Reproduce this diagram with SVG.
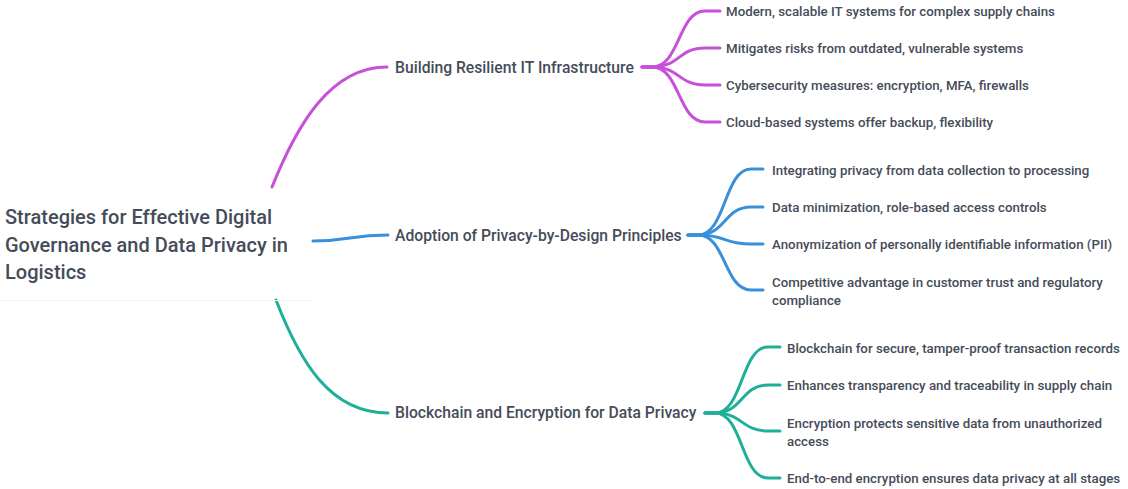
<svg xmlns="http://www.w3.org/2000/svg" width="1128" height="489" viewBox="0 0 1128 489">
<style>
text{font-family:Roboto,"Liberation Sans",sans-serif;fill:#454c59;font-weight:500}
.root{font-size:20px}
.br{font-size:15.7px}
.lf{font-size:13.3px}
.c{fill:none;stroke-width:3;stroke-linecap:round}
.p{stroke:#c84fd9}.b{stroke:#3a8fdb}.t{stroke:#1faf99}
</style>
<rect width="1128" height="489" fill="#fff"/>
<g id="connectors">
<path class="c p" d="M272,187 C297,125 330,67 387,67"/>
<path class="c b" d="M313,241 C350,241 350,235 388,235"/>
<path class="c t" d="M276,300 C300,362 330,413 388,413"/>
<path class="c p" d="M642,67 L652,67 C680,67 678,11 705,11 L720,11"/>
<path class="c p" d="M642,67 L652,67 C680,67 678,48 705,48 L720,48"/>
<path class="c p" d="M642,67 L652,67 C680,67 678,85 705,85 L720,85"/>
<path class="c p" d="M642,67 L652,67 C680,67 678,122 705,122 L720,122"/>
<path class="c b" d="M688,235 L698,235 C726,235 724,169 751,169 L763,169"/>
<path class="c b" d="M688,235 L698,235 C726,235 724,207 751,207 L763,207"/>
<path class="c b" d="M688,235 L698,235 C726,235 724,244 751,244 L763,244"/>
<path class="c b" d="M688,235 L698,235 C726,235 724,290 751,290 L763,290"/>
<path class="c t" d="M705,413 L715,413 C743,413 741,347 768,347 L780,347"/>
<path class="c t" d="M705,413 L715,413 C743,413 741,385 768,385 L780,385"/>
<path class="c t" d="M705,413 L715,413 C743,413 741,431 768,431 L780,431"/>
<path class="c t" d="M705,413 L715,413 C743,413 741,478 768,478 L780,478"/>
</g>
<g id="root">
<line x1="0" y1="300.5" x2="310" y2="300.5" stroke="#f2f2f2" stroke-width="1"/>
<text class="root" x="5" y="224">Strategies for Effective Digital</text>
<text class="root" x="5" y="252">Governance and Data Privacy in</text>
<text class="root" x="5" y="279">Logistics</text>
</g>
<g id="b1"><text class="br" x="395" y="73">Building Resilient IT Infrastructure</text></g>
<g id="b2"><text class="br" x="395" y="241">Adoption of Privacy-by-Design Principles</text></g>
<g id="b3"><text class="br" x="395" y="418">Blockchain and Encryption for Data Privacy</text></g>
<g id="l1"><text class="lf" x="726" y="16">Modern, scalable IT systems for complex supply chains</text></g>
<g id="l2"><text class="lf" x="726" y="53">Mitigates risks from outdated, vulnerable systems</text></g>
<g id="l3"><text class="lf" x="726" y="90">Cybersecurity measures: encryption, MFA, firewalls</text></g>
<g id="l4"><text class="lf" x="726" y="127">Cloud-based systems offer backup, flexibility</text></g>
<g id="l5"><text class="lf" x="772" y="175">Integrating privacy from data collection to processing</text></g>
<g id="l6"><text class="lf" x="772" y="212">Data minimization, role-based access controls</text></g>
<g id="l7"><text class="lf" x="772" y="249">Anonymization of personally identifiable information (PII)</text></g>
<g id="l8"><text class="lf" x="772" y="287">Competitive advantage in customer trust and regulatory</text><text class="lf" x="772" y="305">compliance</text></g>
<g id="l9"><text class="lf" x="787" y="353">Blockchain for secure, tamper-proof transaction records</text></g>
<g id="l10"><text class="lf" x="787" y="390">Enhances transparency and traceability in supply chain</text></g>
<g id="l11"><text class="lf" x="787" y="428">Encryption protects sensitive data from unauthorized</text><text class="lf" x="787" y="446">access</text></g>
<g id="l12"><text class="lf" x="787" y="483">End-to-end encryption ensures data privacy at all stages</text></g>
</svg>
